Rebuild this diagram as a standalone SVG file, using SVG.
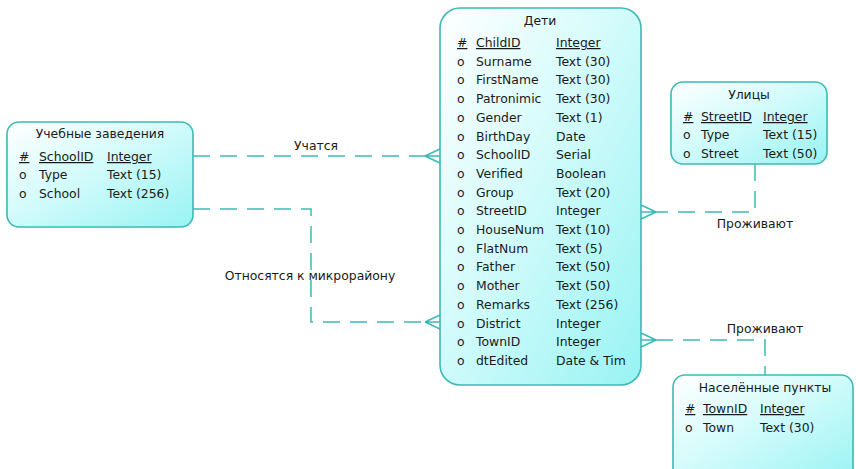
<svg xmlns="http://www.w3.org/2000/svg" width="856" height="469" viewBox="0 0 856 469">
<defs>
<linearGradient id="g" x1="0" y1="0" x2="1" y2="1">
<stop offset="0" stop-color="#ffffff"/>
<stop offset="0.45" stop-color="#d4fbfb"/>
<stop offset="1" stop-color="#98f3f3"/>
</linearGradient>
<style>
.box{fill:url(#g);stroke:#3bbab4;stroke-width:1.6}
text{font-family:"DejaVu Sans","Liberation Sans",sans-serif;font-size:12.4px;fill:#1a1a1a}
.t{text-anchor:middle}
.pk{text-decoration:underline}
.c{fill:none;stroke:#3bbab4;stroke-width:1.5}
.d{stroke-dasharray:17 10}
</style>
</defs>
<rect width="856" height="469" fill="#ffffff"/>

<g id="connectors">
<path class="c d" d="M193 156 H425"/>
<path class="c" d="M425 156 H440 M425 156 L440 149 M425 156 L440 163"/>
<text x="316" y="150" class="t">Учатся</text>
<path class="c d" d="M193 209 H311 V322 H425"/>
<path class="c" d="M425 322 H440 M425 322 L440 315 M425 322 L440 329"/>
<text x="310" y="280" class="t">Относятся к микрорайону</text>
<path class="c d" d="M755 164 V212 H656"/>
<path class="c" d="M656 212 H641 M656 212 L641 205 M656 212 L641 219"/>
<text x="755" y="228" class="t">Проживают</text>
<path class="c d" d="M656 340 H765 V375"/>
<path class="c" d="M656 340 H641 M656 340 L641 333 M656 340 L641 347"/>
<text x="765" y="333" class="t">Проживают</text>
</g>

<g id="schools">
<rect class="box" x="7" y="122" width="186" height="105" rx="12"/>
<text x="100" y="138" class="t">Учебные заведения</text>
<text x="19" y="161" class="pk">#</text><text x="39" y="161" class="pk">SchoolID</text><text x="107" y="161" class="pk">Integer</text>
<text x="19" y="179">o</text><text x="39" y="179">Type</text><text x="107" y="179">Text (15)</text>
<text x="19" y="198">o</text><text x="39" y="198">School</text><text x="107" y="198">Text (256)</text>
</g>

<g id="children">
<rect class="box" x="440" y="8" width="201" height="377" rx="20"/>
<text x="540" y="25" class="t">Дети</text>
<text x="457" y="47" class="pk">#</text><text x="476" y="47" class="pk">ChildID</text><text x="556" y="47" class="pk">Integer</text>
<text x="457" y="65.7">o</text><text x="476" y="65.7">Surname</text><text x="556" y="65.7">Text (30)</text>
<text x="457" y="84.4">o</text><text x="476" y="84.4">FirstName</text><text x="556" y="84.4">Text (30)</text>
<text x="457" y="103.1">o</text><text x="476" y="103.1">Patronimic</text><text x="556" y="103.1">Text (30)</text>
<text x="457" y="121.8">o</text><text x="476" y="121.8">Gender</text><text x="556" y="121.8">Text (1)</text>
<text x="457" y="140.5">o</text><text x="476" y="140.5">BirthDay</text><text x="556" y="140.5">Date</text>
<text x="457" y="159.2">o</text><text x="476" y="159.2">SchoolID</text><text x="556" y="159.2">Serial</text>
<text x="457" y="177.9">o</text><text x="476" y="177.9">Verified</text><text x="556" y="177.9">Boolean</text>
<text x="457" y="196.6">o</text><text x="476" y="196.6">Group</text><text x="556" y="196.6">Text (20)</text>
<text x="457" y="215.3">o</text><text x="476" y="215.3">StreetID</text><text x="556" y="215.3">Integer</text>
<text x="457" y="234">o</text><text x="476" y="234">HouseNum</text><text x="556" y="234">Text (10)</text>
<text x="457" y="252.7">o</text><text x="476" y="252.7">FlatNum</text><text x="556" y="252.7">Text (5)</text>
<text x="457" y="271.4">o</text><text x="476" y="271.4">Father</text><text x="556" y="271.4">Text (50)</text>
<text x="457" y="290.1">o</text><text x="476" y="290.1">Mother</text><text x="556" y="290.1">Text (50)</text>
<text x="457" y="308.8">o</text><text x="476" y="308.8">Remarks</text><text x="556" y="308.8">Text (256)</text>
<text x="457" y="327.5">o</text><text x="476" y="327.5">District</text><text x="556" y="327.5">Integer</text>
<text x="457" y="346.2">o</text><text x="476" y="346.2">TownID</text><text x="556" y="346.2">Integer</text>
<text x="457" y="364.9">o</text><text x="476" y="364.9">dtEdited</text><text x="556" y="364.9">Date &amp; Tim</text>
</g>

<g id="streets">
<rect class="box" x="671" y="82" width="156" height="82" rx="12"/>
<text x="749" y="99" class="t">Улицы</text>
<text x="683" y="121" class="pk">#</text><text x="701" y="121" class="pk">StreetID</text><text x="763" y="121" class="pk">Integer</text>
<text x="683" y="139">o</text><text x="701" y="139">Type</text><text x="763" y="139">Text (15)</text>
<text x="683" y="158">o</text><text x="701" y="158">Street</text><text x="763" y="158">Text (50)</text>
</g>

<g id="towns">
<rect class="box" x="673" y="375" width="180" height="110" rx="12"/>
<text x="765" y="392" class="t">Населённые пункты</text>
<text x="685" y="413" class="pk">#</text><text x="703" y="413" class="pk">TownID</text><text x="760" y="413" class="pk">Integer</text>
<text x="685" y="432">o</text><text x="703" y="432">Town</text><text x="760" y="432">Text (30)</text>
</g>
</svg>
